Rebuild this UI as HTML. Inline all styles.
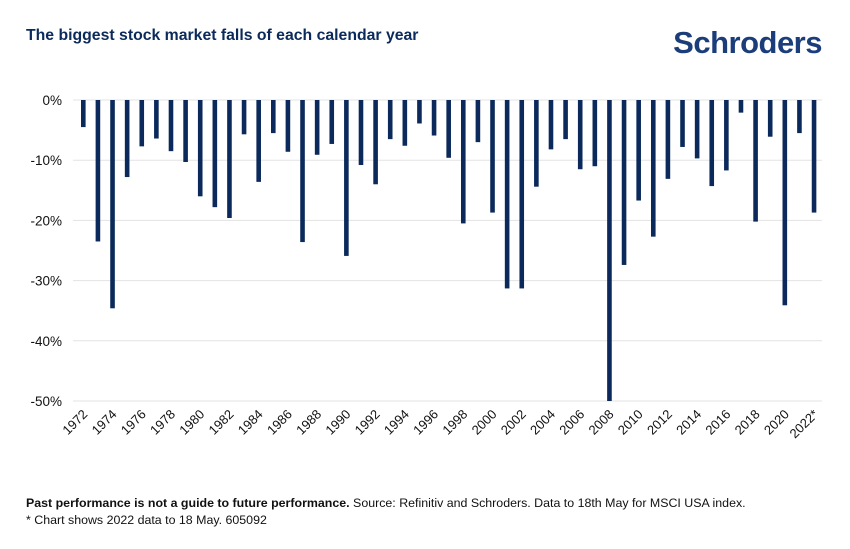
<!DOCTYPE html>
<html><head><meta charset="utf-8"><style>
body{margin:0;background:#fff;width:850px;height:549px;overflow:hidden;font-family:"Liberation Sans",sans-serif;}
#c{position:absolute;left:0;top:0}
</style></head><body>
<svg id="c" width="850" height="549">
<text x="26" y="40" font-size="15.8" font-weight="bold" fill="#0b2a5b">The biggest stock market falls of each calendar year</text>
<text x="822" y="53" text-anchor="end" font-size="31" font-weight="bold" fill="#1b3e7b" letter-spacing="-0.5">Schroders</text>
<g id="grid"></g><g id="bars"></g><g id="ylab"></g><g id="xlab"></g>
<text x="26" y="507" font-size="12.4" fill="#111"><tspan font-weight="bold">Past performance is not a guide to future performance.</tspan> Source: Refinitiv and Schroders. Data to 18th May for MSCI USA index.</text>
<text x="26" y="524" font-size="12.4" fill="#111">* Chart shows 2022 data to 18 May. 605092</text>
</svg>
<script>
const years=[];for(let y=1972;y<=2022;y++)years.push(y);
const falls=[4.5,23.5,34.6,12.8,7.7,6.4,8.5,10.3,16.0,17.8,19.6,5.7,13.6,5.5,8.6,23.6,9.1,7.3,25.9,10.8,14.0,6.5,7.6,3.9,5.9,9.6,20.5,7.0,18.7,31.3,31.3,14.4,8.2,6.5,11.5,11.0,50.0,27.4,16.7,22.7,13.1,7.8,9.7,14.3,11.7,2.1,20.2,6.1,34.1,5.5,18.7];
const yTicks=[0,-10,-20,-30,-40,-50];
const NS="http://www.w3.org/2000/svg";
function yS(v){return 100+(-v)*6.02;}
function xS(i){return 83.3+i*14.615;}
function mk(t,a,p){const e=document.createElementNS(NS,t);for(const k in a)e.setAttribute(k,a[k]);p.appendChild(e);return e;}
const g=document.getElementById('grid'),yl=document.getElementById('ylab'),b=document.getElementById('bars'),xl=document.getElementById('xlab');
yTicks.forEach(t=>{
 const l=mk('line',{x1:73,x2:822,y1:yS(t),y2:yS(t),stroke:'#e3e3e3','stroke-width':1},g);
 
 
 const tx=mk('text',{x:62,y:yS(t)+5,'text-anchor':'end','font-size':13.5,fill:'#111'},yl);
 tx.textContent=t+'%';
 
 
});
falls.forEach((v,i)=>{
 const r=mk('rect',{x:xS(i)-2.3,y:yS(0),width:4.6,height:yS(-v)-yS(0),fill:'#0b2a5b'},b);
 
 
 if(i%2===0){
  const x=xS(i)+5,y=415;
  const tx=mk('text',{x:x,y:y,'text-anchor':'end','font-size':13,fill:'#111',transform:`rotate(-45 ${x} ${y})`},xl);
  tx.textContent=years[i]+(years[i]===2022?'*':'');
  
  
 }
});
</script>
</body></html>
